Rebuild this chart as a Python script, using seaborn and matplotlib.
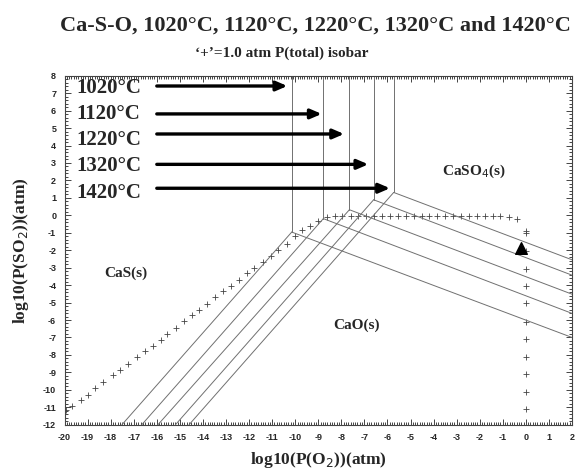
import numpy as np
import pandas as pd
import matplotlib
matplotlib.use("Agg")
import matplotlib.pyplot as plt
from matplotlib.ticker import MultipleLocator
import seaborn as sns

# ---------------- data ----------------
temps = ["1020°C", "1120°C", "1220°C", "1320°C", "1420°C"]

# CaS / CaSO4 vertical boundary (log pO2) and the triple point height
cas_caso4_x = [-10.15, -8.78, -7.65, -6.60, -5.73]
triple_y = [-0.96, -0.19, 0.32, 0.89, 1.31]
# CaS / CaO boundary meets the bottom frame (y=-12) at these x
cas_cao_bottom_x = [-17.51, -16.65, -15.95, -15.19, -14.60]
# CaO / CaSO4 boundary meets the right frame (x=2) at these y
cao_caso4_right_y = [-7.00, -5.62, -4.52, -3.43, -2.55]

# arrows pointing at each temperature's vertical boundary
arrow_start_x = -16.0
arrow_end_x = [-10.34, -8.85, -7.88, -6.83, -5.89]
arrow_y = [7.41, 5.81, 4.66, 2.92, 1.55]
label_y = [7.32, 5.80, 4.31, 2.80, 1.30]

# '+' = 1.0 atm P(total) isobar
isobar_x = [-19.95, -19.69, -19.30, -18.97, -18.68, -18.32, -17.91, -17.59, -17.23,
            -16.87, -16.51, -16.18, -15.83, -15.54, -15.17, -14.82, -14.49, -14.16,
            -13.81, -13.48, -13.12, -12.78, -12.42, -12.10, -11.79, -11.38, -11.06,
            -10.73, -10.37, -10.01, -9.72, -9.36, -9.00,
            -8.63, -8.29, -7.95, -7.60, -7.26, -6.92, -6.58, -6.23, -5.89, -5.55,
            -5.21, -4.86, -4.52, -4.18, -3.84, -3.49, -3.15, -2.81, -2.47, -2.12,
            -1.78, -1.44, -1.10, -0.75, -0.40,
            0.0, 0.0, 0.0, 0.0, 0.0, 0.0, 0.0, 0.0, 0.0, 0.0, 0.0, 0.0]
isobar_y = [-11.15, -10.95, -10.57, -10.28, -9.90, -9.57, -9.13, -8.85, -8.52,
            -8.12, -7.80, -7.47, -7.13, -6.78, -6.46, -6.08, -5.74, -5.41,
            -5.07, -4.70, -4.36, -4.03, -3.69, -3.31, -3.02, -2.68, -2.35,
            -1.97, -1.63, -1.21, -0.83, -0.63, -0.34,
            -0.10, -0.06, -0.05, -0.05, -0.05, -0.05, -0.05, -0.05, -0.05, -0.05,
            -0.05, -0.05, -0.05, -0.05, -0.05, -0.05, -0.05, -0.05, -0.05, -0.05,
            -0.05, -0.05, -0.05, -0.10, -0.20,
            -0.90, -1.00, -2.05, -3.05, -4.05, -5.05, -6.10, -7.10, -8.10, -9.10,
            -10.10, -11.10]

triangle_x = [-0.23]
triangle_y = [-1.86]

region_labels = ["CaS(s)", "CaO(s)", "CaSO$_4$(s)"]
region_x = [-17.35, -7.36, -2.25]
region_y = [-3.32, -6.29, 2.50]

x_lim = (-20, 2)
y_lim = (-12, 8)

# ---------------- build boundary segments ----------------
rows = []
for i, t in enumerate(temps):
    segs = [
        [(cas_caso4_x[i], y_lim[1]), (cas_caso4_x[i], triple_y[i])],
        [(cas_caso4_x[i], triple_y[i]), (cas_cao_bottom_x[i], y_lim[0])],
        [(cas_caso4_x[i], triple_y[i]), (x_lim[1], cao_caso4_right_y[i])],
    ]
    for j, seg in enumerate(segs):
        for x, y in seg:
            rows.append({"seg": f"{t}-{j}", "x": x, "y": y})
lines = pd.DataFrame(rows)
iso = pd.DataFrame({"x": isobar_x, "y": isobar_y})

# ---------------- plot ----------------
sns.set_style("ticks")
plt.rcParams["axes.unicode_minus"] = False
serif = ["Liberation Serif", "DejaVu Serif"]
sans = ["Liberation Sans", "DejaVu Sans"]

fig = plt.figure(figsize=(5.75, 4.72), dpi=100)
ax = fig.add_axes([0.1122, 0.1002, 0.9948 - 0.1122, 0.8396 - 0.1002])

sns.lineplot(data=lines, x="x", y="y", units="seg", estimator=None, sort=False,
             color="#707070", linewidth=0.7, ax=ax, legend=False)
sns.scatterplot(data=iso, x="x", y="y", marker="+", color="#444444", s=20,
                linewidth=0.6, ax=ax, legend=False)
ax.scatter(triangle_x, triangle_y, marker="^", s=70, color="black", zorder=5)

for t, ly, ay, ax_end in zip(temps, label_y, arrow_y, arrow_end_x):
    ax.text(-19.5, ly, t, fontsize=15, fontweight="bold", family=serif,
            va="center", ha="left")
    ax.annotate("", xy=(ax_end, ay), xytext=(arrow_start_x, ay),
                arrowprops=dict(arrowstyle="-|>,head_length=0.65,head_width=0.28",
                                color="black", lw=2.4, shrinkA=0, shrinkB=0))

for lab, rx, ry in zip(region_labels, region_x, region_y):
    ax.text(rx, ry, lab, fontsize=11, fontweight="bold", family=serif,
            ha="center", va="center")

ax.set_xlim(*x_lim)
ax.set_ylim(*y_lim)
ax.xaxis.set_major_locator(MultipleLocator(1))
ax.yaxis.set_major_locator(MultipleLocator(1))
ax.xaxis.set_minor_locator(MultipleLocator(0.1))
ax.yaxis.set_minor_locator(MultipleLocator(0.2))
ax.tick_params(which="both", direction="in", top=True, right=True, width=0.6)
ax.tick_params(which="major", length=4, labelsize=6.5, pad=6)
ax.tick_params(which="minor", length=2)
for lbl in ax.get_xticklabels() + ax.get_yticklabels():
    lbl.set_fontweight("bold")
    lbl.set_family(sans)
for sp in ax.spines.values():
    sp.set_linewidth(0.8)
    sp.set_color("#444444")

ax.set_xlabel("log10(P(O$_2$))(atm)", fontsize=12.5, fontweight="bold",
              family=serif, labelpad=6)
ax.set_ylabel("log10(P(SO$_2$))(atm)", fontsize=12.5, fontweight="bold",
              family=serif, labelpad=9)

fig.text(0.548, 0.945, "Ca-S-O, 1020°C, 1120°C, 1220°C, 1320°C and 1420°C",
         fontsize=16, fontweight="bold", family=serif, ha="center", va="center")
fig.text(0.49, 0.888, "‘+’=1.0 atm P(total) isobar", fontsize=11,
         fontweight="bold", family=serif, ha="center", va="center")

fig.savefig("out.png", dpi=100)
